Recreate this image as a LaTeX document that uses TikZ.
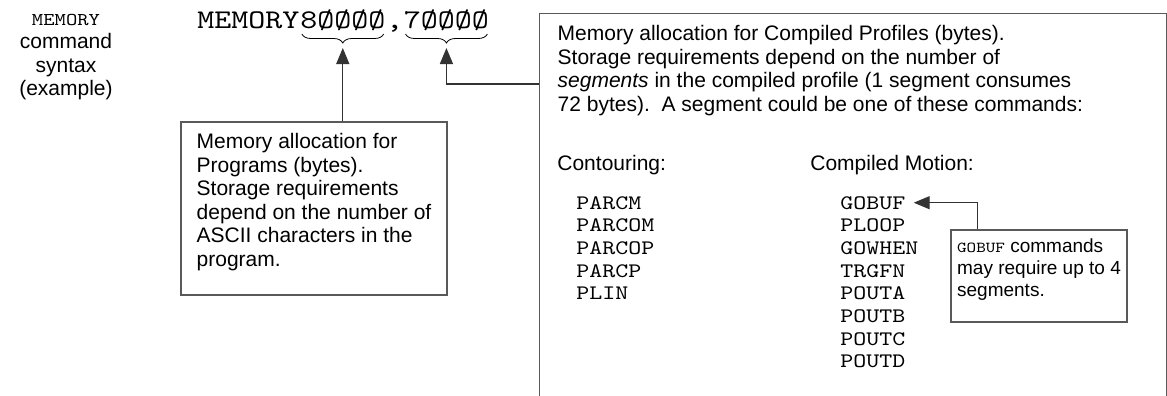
\documentclass[tikz,border=0pt]{standalone}
\usepackage{fontspec}
\setmainfont{Liberation Sans}
\newfontfamily\codefont{lmmono10-regular.otf}[FakeStretch=1.2]
\usetikzlibrary{positioning,arrows.meta,decorations.pathreplacing}
\tikzset{
  notebox/.style={draw=black!65, line width=0.7pt, align=left, inner sep=0pt,
    font=\fontsize{10.5}{11.75}\selectfont},
  code/.style={inner sep=0pt, anchor=base west, font=\codefont\fontsize{13.5}{14}\selectfont},
  cmdlist/.style={inner sep=0pt, anchor=base west, font=\codefont\fontsize{10.3}{11.4}\selectfont},
  heading/.style={inner sep=0pt, anchor=base west, font=\fontsize{10.5}{11.75}\selectfont},
  arr/.style={-{Triangle[length=8pt,width=6.5pt]}, draw=black!80, line width=0.7pt},
  argbrace/.style={decorate, decoration={brace, amplitude=4.5pt}, line width=0.4pt},
}
\begin{document}
\begin{tikzpicture}[x=0.5pt,y=-0.5pt]
    \useasboundingbox (0,0) rectangle (1167,396);
    % caption on the left
    \node[align=center, inner sep=0pt, font=\fontsize{10.5}{11.75}\selectfont] (caption) at (66,57)
        {{\codefont\fontsize{9}{10}\selectfont MEMORY}\\command\\syntax\\(example)};
    % the command itself
    \node[code] (kw) at (197,28) {MEMORY};
    \node[code, base right=0pt of kw] (arg1) {8ØØØØ};
    \node[code, base right=0pt of arg1] (sep) {,};
    \node[code, base right=0pt of sep] (arg2) {7ØØØØ};
    \draw[argbrace] ([xshift=-1pt,yshift=-3pt]arg1.base east) -- ([xshift=1pt,yshift=-3pt]arg1.base west);
    \draw[argbrace] ([xshift=-1pt,yshift=-3pt]arg2.base east) -- ([xshift=1pt,yshift=-3pt]arg2.base west);
    % programs
    \node[notebox, minimum width=133pt, minimum height=86.5pt, text depth=8.5pt] (progbox) at (314,208.5)
        {Memory allocation for\\Programs (bytes).\\Storage requirements\\depend on the number of\\ASCII characters in the\\program.};
    \draw[arr] (progbox.north -| arg1.base) -- ([yshift=-10pt]arg1.base);
    % compiled profiles
    \node[draw=black!65, line width=0.7pt, minimum width=313.5pt, minimum height=200pt,
        anchor=north west, inner sep=0pt] (profbox) at (539,13) {};
    \node[notebox, draw=none, anchor=north west] (proftxt) at (557,25)
        {Memory allocation for Compiled Profiles (bytes).\\Storage requirements depend on the number of\\\textit{segments} in the compiled profile (1 segment consumes\\72 bytes).\ \ A segment could be one of these commands:};
    \coordinate (pjoin) at (539,84);
    \draw[arr] (pjoin) -| ([yshift=-10pt]arg2.base);
    \node[heading] (conthead) at (557,170) {Contouring:};
    \node[heading] (mothead) at (810,170) {Compiled Motion:};
    \foreach \cmd [count=\i] in {PARCM,PARCOM,PARCOP,PARCP,PLIN}
        \node[cmdlist] (cont-\i) at (576,{209+22.7*(\i-1)}) {\cmd};
    \foreach \cmd [count=\i] in {GOBUF,PLOOP,GOWHEN,TRGFN,POUTA,POUTB,POUTC,POUTD}
        \node[cmdlist] (mot-\i) at (840,{209+22.7*(\i-1)}) {\cmd};
    % note on GOBUF
    \node[notebox, minimum width=88pt, minimum height=46pt, text depth=8pt,
        font=\fontsize{9.5}{11}\selectfont] (gobufnote) at (1039,276)
        {{\codefont\fontsize{7.6}{9}\selectfont GOBUF} commands\\may require up to 4\\segments.};
    \draw[arr] ([xshift=13.5pt]gobufnote.north west) |- ([xshift=4pt]mot-1.east);
\end{tikzpicture}
\end{document}
